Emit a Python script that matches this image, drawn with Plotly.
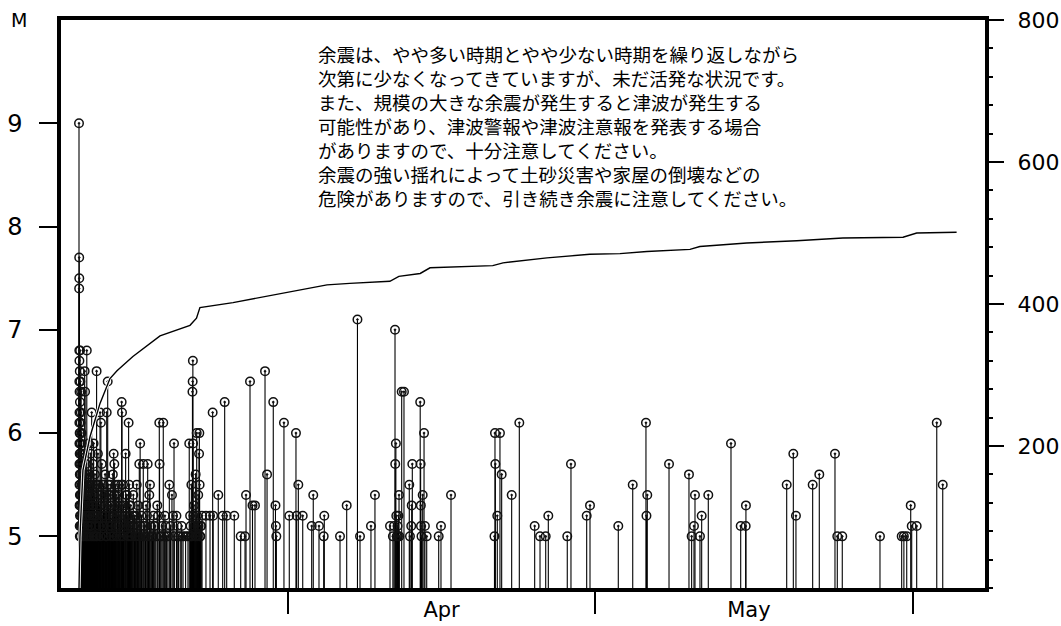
import plotly.graph_objects as go

# ---------------- data ----------------
quake_time = [
    # Mar 11 main shock column
    "2011-03-11 14:46", "2011-03-11 15:08", "2011-03-11 15:15", "2011-03-11 15:25",
    "2011-03-11 15:30", "2011-03-11 15:34", "2011-03-11 15:38", "2011-03-11 15:42",
    "2011-03-11 15:46", "2011-03-11 15:50", "2011-03-11 15:55", "2011-03-11 16:00",
    "2011-03-11 16:05", "2011-03-11 16:10", "2011-03-11 16:15", "2011-03-11 16:20",
    "2011-03-11 16:26", "2011-03-11 16:32", "2011-03-11 16:38", "2011-03-11 16:44",
    "2011-03-11 16:50", "2011-03-11 16:57", "2011-03-11 17:04", "2011-03-11 17:10",
    "2011-03-11 17:18", "2011-03-11 17:25", "2011-03-11 17:33", "2011-03-11 17:40",
    "2011-03-11 17:48", "2011-03-11 17:56", "2011-03-11 18:04", "2011-03-11 18:12",
    "2011-03-11 18:20", "2011-03-11 18:30", "2011-03-11 18:40", "2011-03-11 18:50",
    "2011-03-11 19:00", "2011-03-11 19:10", "2011-03-11 19:20", "2011-03-11 19:30",
    "2011-03-11 19:45", "2011-03-11 20:00", "2011-03-11 20:15", "2011-03-11 20:30",
    "2011-03-11 20:45", "2011-03-11 21:00", "2011-03-11 21:20", "2011-03-11 21:40",
    # Mar 12 - Mar 16
    "2011-03-12 00:10", "2011-03-12 01:00", "2011-03-12 01:50", "2011-03-12 02:40",
    "2011-03-12 03:30", "2011-03-12 04:00", "2011-03-12 05:00", "2011-03-12 06:00",
    "2011-03-12 07:00", "2011-03-12 08:00", "2011-03-12 09:00", "2011-03-12 10:30",
    "2011-03-12 12:00", "2011-03-12 13:30", "2011-03-12 15:00", "2011-03-12 16:30",
    "2011-03-12 18:00", "2011-03-12 19:30", "2011-03-12 20:30", "2011-03-12 22:00",
    "2011-03-12 23:30", "2011-03-13 01:00", "2011-03-13 02:30", "2011-03-13 04:00",
    "2011-03-13 05:30", "2011-03-13 07:00", "2011-03-13 08:00", "2011-03-13 09:30",
    "2011-03-13 11:00", "2011-03-13 13:00", "2011-03-13 16:00", "2011-03-13 18:00",
    "2011-03-13 20:00", "2011-03-13 22:00", "2011-03-14 00:00", "2011-03-14 02:00",
    "2011-03-14 04:00", "2011-03-14 06:00", "2011-03-14 07:40", "2011-03-14 10:00",
    "2011-03-14 12:00", "2011-03-14 14:00", "2011-03-14 16:00", "2011-03-14 18:00",
    "2011-03-14 20:00", "2011-03-14 22:00", "2011-03-15 00:00", "2011-03-15 01:30",
    "2011-03-15 03:30", "2011-03-15 06:00", "2011-03-15 08:30", "2011-03-15 11:00",
    "2011-03-15 14:00", "2011-03-15 16:30", "2011-03-15 18:40", "2011-03-15 19:30",
    "2011-03-15 22:00", "2011-03-16 01:00", "2011-03-16 04:00", "2011-03-16 07:00",
    "2011-03-16 09:30", "2011-03-16 11:00", "2011-03-16 12:30", "2011-03-16 14:00",
    # Mar 16 - Mar 22
    "2011-03-16 16:00", "2011-03-16 19:00", "2011-03-16 22:00", "2011-03-17 01:00",
    "2011-03-17 03:30", "2011-03-17 06:00", "2011-03-17 09:00", "2011-03-17 12:00",
    "2011-03-17 14:00", "2011-03-17 17:00", "2011-03-17 21:20", "2011-03-18 01:00",
    "2011-03-18 04:00", "2011-03-18 07:40", "2011-03-18 11:30", "2011-03-18 13:00",
    "2011-03-18 17:00", "2011-03-18 21:00", "2011-03-19 01:00", "2011-03-19 06:10",
    "2011-03-19 10:50", "2011-03-19 11:30", "2011-03-19 15:00", "2011-03-19 20:10",
    "2011-03-20 00:00", "2011-03-20 04:00", "2011-03-20 10:20", "2011-03-20 16:30",
    "2011-03-20 19:00", "2011-03-20 21:20", "2011-03-21 03:00", "2011-03-21 08:00",
    "2011-03-21 15:20", "2011-03-21 18:30", "2011-03-22 00:30", "2011-03-22 06:00",
    # Mar 22 - Apr 2
    "2011-03-22 09:00", "2011-03-22 11:00", "2011-03-22 13:00", "2011-03-22 14:00",
    "2011-03-22 16:30", "2011-03-22 17:00", "2011-03-22 17:30", "2011-03-22 18:00",
    "2011-03-22 20:00", "2011-03-22 22:30", "2011-03-23 00:00", "2011-03-23 02:30",
    "2011-03-23 04:00", "2011-03-23 06:00", "2011-03-23 08:00", "2011-03-23 08:40",
    "2011-03-23 09:20", "2011-03-23 10:00", "2011-03-23 12:00", "2011-03-23 15:00",
    "2011-03-24 00:10", "2011-03-24 09:40", "2011-03-24 15:50", "2011-03-24 17:00",
    "2011-03-25 05:00", "2011-03-25 15:20", "2011-03-25 20:00", "2011-03-26 00:45",
    "2011-03-26 18:30", "2011-03-27 09:30", "2011-03-27 19:40", "2011-03-27 22:00",
    "2011-03-28 07:20", "2011-03-28 13:10", "2011-03-28 19:00", "2011-03-29 18:30",
    "2011-03-29 23:15", "2011-03-30 13:50", "2011-03-30 19:00", "2011-03-30 20:00",
    "2011-03-30 21:00", "2011-03-31 14:50", "2011-04-01 03:20", "2011-04-01 19:00",
    "2011-04-01 20:30", "2011-04-02 00:30", "2011-04-02 10:50",
    # April
    "2011-04-03 07:50", "2011-04-03 11:30", "2011-04-04 00:55", "2011-04-04 12:00",
    "2011-04-04 13:20", "2011-04-06 02:10", "2011-04-06 17:50", "2011-04-07 19:00",
    "2011-04-08 01:00", "2011-04-09 02:40", "2011-04-09 12:00", "2011-04-10 23:15",
    "2011-04-11 06:00", "2011-04-11 08:30", "2011-04-11 11:00", "2011-04-11 11:30",
    "2011-04-11 13:00", "2011-04-11 14:00", "2011-04-11 15:00", "2011-04-11 17:00",
    "2011-04-11 18:00", "2011-04-11 19:00", "2011-04-11 20:25", "2011-04-11 21:00",
    "2011-04-12 02:40", "2011-04-12 08:00", "2011-04-12 20:25", "2011-04-12 22:00",
    "2011-04-13 01:00", "2011-04-13 02:05", "2011-04-13 03:30", "2011-04-13 22:00",
    "2011-04-13 23:00", "2011-04-13 23:30", "2011-04-13 23:50", "2011-04-14 01:00",
    "2011-04-14 03:50", "2011-04-14 07:00", "2011-04-14 09:00", "2011-04-14 13:15",
    "2011-04-15 17:20", "2011-04-15 22:40", "2011-04-16 22:10", "2011-04-21 04:00",
    "2011-04-21 05:10", "2011-04-21 06:00", "2011-04-21 10:35", "2011-04-21 16:50",
    "2011-04-21 20:50", "2011-04-22 20:15", "2011-04-23 14:10", "2011-04-25 02:10",
    "2011-04-25 14:40", "2011-04-26 04:00", "2011-04-26 10:05", "2011-04-28 06:30",
    "2011-04-28 15:10", "2011-04-30 04:00", "2011-04-30 11:45",
    # May - June
    "2011-05-03 06:00", "2011-05-04 15:50", "2011-05-05 22:50", "2011-05-06 00:00",
    "2011-05-06 01:55", "2011-05-08 04:50", "2011-05-10 03:35", "2011-05-10 09:50",
    "2011-05-10 15:20", "2011-05-10 17:40", "2011-05-11 05:20", "2011-05-11 09:20",
    "2011-05-12 00:50", "2011-05-14 06:00", "2011-05-15 04:45", "2011-05-15 16:25",
    "2011-05-15 17:00", "2011-05-19 16:30", "2011-05-20 08:00", "2011-05-20 14:10",
    "2011-05-22 05:20", "2011-05-22 20:50", "2011-05-24 09:35", "2011-05-24 15:00",
    "2011-05-25 02:40", "2011-05-28 19:00", "2011-05-30 21:50", "2011-05-31 03:00",
    "2011-05-31 09:40", "2011-05-31 19:00", "2011-05-31 21:20", "2011-06-01 09:00",
    "2011-06-03 08:00", "2011-06-03 22:00",
]

quake_mag = [
    9.0, 7.4, 7.7, 7.5,
    6.8, 6.5, 6.1, 5.9, 6.7, 5.7, 6.2, 5.5, 6.4, 5.3, 6.0, 5.8,
    5.1, 6.6, 5.6, 5.0, 5.4, 6.3, 5.2, 5.9, 6.8, 5.5, 6.0, 5.3,
    5.7, 6.5, 5.1, 5.8, 5.4, 6.1, 5.0, 5.6, 6.2, 5.2, 5.9, 5.4,
    6.4, 5.3, 5.7, 5.1, 6.0, 5.5, 5.8, 5.2,
    5.6, 5.3, 5.8, 5.1, 5.5, 6.6, 6.4, 5.2, 5.7, 5.4, 6.8, 5.0,
    5.6, 5.9, 5.3, 5.5, 5.8, 5.1, 6.2, 5.4, 5.7, 5.9, 5.2, 5.6,
    5.0, 5.5, 6.6, 5.3, 5.8, 5.4, 6.2, 6.1, 5.7, 5.1, 5.5, 5.3,
    5.6, 5.0, 6.2, 6.5, 5.4, 5.2, 5.5, 5.0, 5.3, 5.6, 5.8, 5.7,
    5.1, 5.4, 5.2, 5.5, 5.0, 5.3, 6.3, 6.2, 5.5, 5.2, 5.8, 5.4,
    5.1, 6.1, 5.5, 5.0,
    5.3, 5.1, 5.4, 5.2, 5.0, 5.5, 5.3, 5.7, 5.9, 5.2, 5.7, 5.1,
    5.3, 5.7, 5.4, 5.5, 5.0, 5.2, 5.1, 5.3, 6.1, 5.7, 5.0, 6.1,
    5.2, 5.0, 5.5, 5.4, 5.2, 5.9, 5.2, 5.0, 5.1, 5.0, 5.0, 5.0,
    5.9, 5.2, 5.0, 5.5, 6.4, 6.5, 6.7, 5.9, 5.3, 5.0, 5.6, 6.0,
    5.1, 5.4, 5.8, 6.0, 5.5, 5.0, 5.1, 5.2, 5.2, 5.2, 6.2, 5.2,
    5.4, 5.2, 6.3, 5.2, 5.2, 5.0, 5.0, 5.4, 6.5, 5.3, 5.3, 6.6,
    5.6, 6.3, 5.3, 5.1, 5.0, 6.1, 5.2, 6.0, 5.2, 5.5, 5.2,
    5.1, 5.4, 5.1, 5.0, 5.2, 5.0, 5.3, 7.1, 5.0, 5.1, 5.4, 5.1,
    5.0, 5.1, 7.0, 5.7, 5.9, 5.2, 5.0, 5.1, 5.0, 5.2, 5.4, 5.0,
    6.4, 6.4, 5.5, 5.0, 5.1, 5.3, 5.7, 6.3, 5.7, 5.3, 5.1, 5.0,
    5.4, 6.0, 5.1, 5.0, 5.0, 5.1, 5.4, 5.0, 6.0, 5.7, 5.2, 6.0,
    5.6, 5.4, 6.1, 5.1, 5.0, 5.0, 5.2, 5.0, 5.7, 5.2, 5.3,
    5.1, 5.5, 6.1, 5.2, 5.4, 5.7, 5.6, 5.0, 5.1, 5.4, 5.0, 5.2,
    5.4, 5.9, 5.1, 5.1, 5.3, 5.5, 5.8, 5.2, 5.5, 5.6, 5.8, 5.0,
    5.0, 5.0, 5.0, 5.0, 5.0, 5.3, 5.1, 5.1, 6.1, 5.5,
]

# the many smaller shocks that form the dark mass of stems in March
swarm_time = [
    "2011-03-11 22:00", "2011-03-11 22:20", "2011-03-11 22:40", "2011-03-11 23:00",
    "2011-03-11 23:20", "2011-03-11 23:40",
    "2011-03-12 00:30", "2011-03-12 01:20", "2011-03-12 02:10", "2011-03-12 03:00",
    "2011-03-12 04:30", "2011-03-12 05:30", "2011-03-12 06:30", "2011-03-12 07:30",
    "2011-03-12 08:30", "2011-03-12 09:40", "2011-03-12 11:00", "2011-03-12 11:40",
    "2011-03-12 12:40", "2011-03-12 14:00", "2011-03-12 14:30", "2011-03-12 15:40",
    "2011-03-12 17:00", "2011-03-12 17:30", "2011-03-12 18:40", "2011-03-12 20:00",
    "2011-03-12 21:00", "2011-03-12 22:40", "2011-03-12 23:00",
    "2011-03-13 00:20", "2011-03-13 01:40", "2011-03-13 03:10", "2011-03-13 04:40",
    "2011-03-13 06:10", "2011-03-13 07:40", "2011-03-13 08:40", "2011-03-13 10:00",
    "2011-03-13 12:00", "2011-03-13 14:00", "2011-03-13 15:00", "2011-03-13 17:00",
    "2011-03-13 19:00", "2011-03-13 21:00", "2011-03-13 23:00",
    "2011-03-14 01:00", "2011-03-14 03:00", "2011-03-14 05:00", "2011-03-14 07:00",
    "2011-03-14 09:00", "2011-03-14 11:00", "2011-03-14 13:00", "2011-03-14 15:00",
    "2011-03-14 17:00", "2011-03-14 19:00", "2011-03-14 21:00", "2011-03-14 23:00",
    "2011-03-15 01:00", "2011-03-15 02:30", "2011-03-15 04:30", "2011-03-15 07:00",
    "2011-03-15 09:30", "2011-03-15 12:00", "2011-03-15 13:00", "2011-03-15 15:00",
    "2011-03-15 17:30", "2011-03-15 20:30", "2011-03-15 23:00",
    "2011-03-16 02:30", "2011-03-16 05:30", "2011-03-16 08:00", "2011-03-16 10:00",
    "2011-03-16 13:00", "2011-03-16 15:00", "2011-03-16 17:30", "2011-03-16 20:30",
    "2011-03-17 00:00", "2011-03-17 02:00", "2011-03-17 04:30", "2011-03-17 08:00",
    "2011-03-17 10:30", "2011-03-17 15:30", "2011-03-17 19:00", "2011-03-17 23:00",
    "2011-03-18 02:30", "2011-03-18 06:00", "2011-03-18 09:30", "2011-03-18 15:00",
    "2011-03-18 19:00", "2011-03-18 23:00",
    "2011-03-19 03:00", "2011-03-19 08:00", "2011-03-19 13:00", "2011-03-19 17:30",
    "2011-03-19 22:30",
    "2011-03-20 02:00", "2011-03-20 07:00", "2011-03-20 13:00", "2011-03-20 22:00",
    "2011-03-21 05:00", "2011-03-21 12:00",
    "2011-03-22 12:00", "2011-03-22 15:00", "2011-03-22 19:00", "2011-03-22 21:00",
    "2011-03-23 01:00", "2011-03-23 03:00", "2011-03-23 05:00", "2011-03-23 07:00",
    "2011-03-23 11:00", "2011-03-23 13:00",
]
swarm_mag = [
    5.4, 5.6, 5.1, 5.5, 5.3, 5.0,
    5.2, 5.5, 5.0, 5.4, 5.1, 5.6, 5.3, 5.0, 5.5, 5.2, 5.4, 5.1,
    5.3, 5.6, 5.0, 5.2, 5.4, 5.1, 5.5, 5.0, 5.3, 5.2, 5.5,
    5.3, 5.0, 5.4, 5.1, 5.2, 5.5, 5.0, 5.2, 5.5, 5.1, 5.3, 5.0,
    5.4, 5.2, 5.5,
    5.1, 5.4, 5.2, 5.0, 5.3, 5.5, 5.1, 5.3, 5.4, 5.1, 5.2, 5.0,
    5.4, 5.2, 5.5, 5.0, 5.3, 5.1, 5.4, 5.2, 5.5, 5.0, 5.3,
    5.1, 5.4, 5.2, 5.0, 5.3, 5.1, 5.0, 5.2,
    5.1, 5.0, 5.2, 5.1, 5.0, 5.1, 5.0, 5.1,
    5.0, 5.2, 5.0, 5.1, 5.0, 5.1,
    5.0, 5.2, 5.0, 5.1, 5.0,
    5.1, 5.0, 5.1, 5.0,
    5.1, 5.0,
    5.1, 5.0, 5.2, 5.1, 5.0, 5.2, 5.0, 5.1, 5.0, 5.1,
]

cum_time = [
    "2011-03-11 14:46", "2011-03-11 17:00", "2011-03-12 00:00", "2011-03-12 16:30",
    "2011-03-13 16:00", "2011-03-14 15:20", "2011-03-15 07:45", "2011-03-16 21:00",
    "2011-03-19 12:30", "2011-03-22 10:45", "2011-03-23 02:00", "2011-03-23 10:00",
    "2011-03-26 15:30", "2011-03-30 22:30", "2011-04-02 04:30", "2011-04-04 19:40",
    "2011-04-07 01:00", "2011-04-10 23:00", "2011-04-11 20:00", "2011-04-13 22:00",
    "2011-04-14 21:00", "2011-04-21 00:00", "2011-04-22 00:00", "2011-04-26 07:00",
    "2011-04-30 11:30", "2011-05-03 10:00", "2011-05-06 01:00", "2011-05-10 06:00",
    "2011-05-11 05:00", "2011-05-15 19:00", "2011-05-20 16:00", "2011-05-25 04:00",
    "2011-05-31 01:00", "2011-06-01 09:00", "2011-06-05 06:30",
]
cum_count = [
    0, 72, 166, 213,
    260, 295, 306, 326,
    355, 370, 380, 395,
    402, 414, 420, 427,
    429, 432, 439, 443,
    451, 454, 458, 465,
    470, 471, 474, 477,
    481, 486, 489, 493,
    494, 500, 501,
]

month_ticks = ["2011-04-01", "2011-05-01", "2011-06-01"]
month_label_pos = ["2011-04-16", "2011-05-16"]
month_labels = ["Apr", "May"]
mag_ticks = [5, 6, 7, 8, 9]
count_ticks = [200, 400, 600, 800]
notice_lines = [
    "余震は、やや多い時期とやや少ない時期を繰り返しながら",
    "次第に少なくなってきていますが、未だ活発な状況です。",
    "また、規模の大きな余震が発生すると津波が発生する",
    "可能性があり、津波警報や津波注意報を発表する場合",
    "がありますので、十分注意してください。",
    "余震の強い揺れによって土砂災害や家屋の倒壊などの",
    "危険がありますので、引き続き余震に注意してください。",
]

M_MIN, M_MAX = 4.5, 10.0
X_RANGE = ["2011-03-09 20:36", "2011-06-08 01:00"]

# ---------------- figure ----------------
all_time = quake_time + swarm_time
all_mag = quake_mag + swarm_mag

stem_x, stem_y = [], []
for t, m in zip(all_time, all_mag):
    stem_x += [t, t, None]
    stem_y += [M_MIN, m, None]

fig = go.Figure()
fig.add_trace(go.Scatter(x=stem_x, y=stem_y, mode="lines",
                         line=dict(color="black", width=1.1), hoverinfo="skip"))
fig.add_trace(go.Scatter(x=all_time, y=all_mag, mode="markers",
                         marker=dict(symbol="circle-open-dot", size=8.5, color="#111111",
                                     line=dict(width=1.5))))
fig.add_trace(go.Scatter(x=cum_time, y=cum_count, yaxis="y2", mode="lines",
                         line=dict(color="white", width=3.2), hoverinfo="skip"))
fig.add_trace(go.Scatter(x=cum_time, y=cum_count, yaxis="y2", mode="lines",
                         line=dict(color="black", width=1.4)))

font_main = "DejaVu Sans, Liberation Sans, sans-serif"

fig.update_layout(
    width=1061, height=626,
    margin=dict(l=61, r=76, t=20, b=38, autoexpand=False),
    paper_bgcolor="white", plot_bgcolor="white",
    showlegend=False,
    xaxis=dict(
        type="date", range=X_RANGE, automargin=False,
        tickmode="array", tickvals=month_label_pos, ticktext=month_labels,
        ticks="", showgrid=False, zeroline=False,
        ticklabelstandoff=0,
        tickfont=dict(family=font_main, size=21, color="black"),
        showline=True, linecolor="black", linewidth=3.5, mirror=True,
        minor=dict(tickmode="array", tickvals=month_ticks, ticks="outside",
                   ticklen=22, tickwidth=1.5, tickcolor="black", showgrid=False),
    ),
    yaxis=dict(
        range=[M_MIN, M_MAX], tickmode="array", tickvals=mag_ticks, automargin=False,
        ticks="outside", ticklen=18, tickwidth=1.5, tickcolor="black",
        ticklabelstandoff=12,
        tickfont=dict(family=font_main, size=24, color="black"),
        showgrid=False, zeroline=False,
        showline=True, linecolor="black", linewidth=3.5, mirror=True,
    ),
    yaxis2=dict(
        overlaying="y", side="right", range=[0, 800], automargin=False,
        tickmode="array", tickvals=count_ticks,
        ticks="outside", ticklen=18, tickwidth=1.5, tickcolor="black",
        ticklabelstandoff=9,
        tickfont=dict(family=font_main, size=22, color="black"),
        minor=dict(dtick=40, ticks="outside", ticklen=7, tickwidth=1.5,
                   tickcolor="black", showgrid=False),
        showgrid=False, zeroline=False, showline=False,
    ),
    annotations=[
        dict(text="M", xref="paper", yref="paper", x=-0.0455, y=1.0,
             xanchor="center", yanchor="middle", showarrow=False,
             font=dict(family=font_main, size=19, color="black")),
        dict(text="<br>".join(notice_lines), xref="paper", yref="paper",
             x=0.276, y=0.966, xanchor="left", yanchor="top", align="left",
             showarrow=False,
             font=dict(family="Noto Sans CJK JP", size=18.5, color="black")),
    ],
)

fig.write_html(
    "out.html",
    config={"displayModeBar": False},
    post_script="document.body.style.margin='0';document.body.style.overflow='hidden';",
)
